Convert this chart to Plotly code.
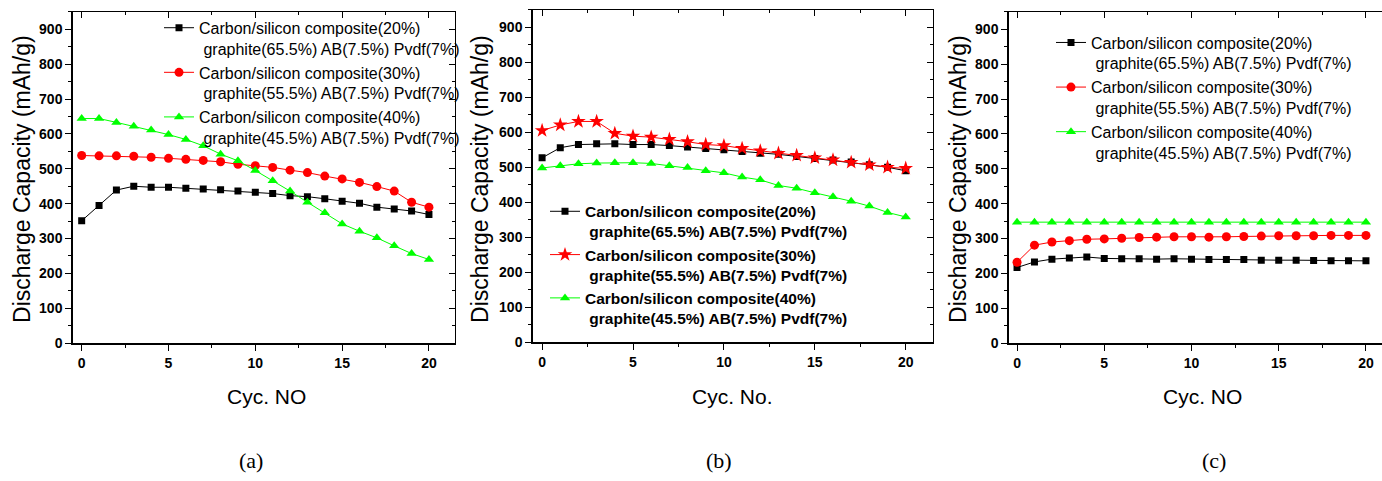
import plotly.graph_objects as go

cycles = list(range(21))

# Panel (a)
a_20 = [351, 395, 439, 450, 447, 447, 444, 442, 440, 436, 433, 429, 423, 420, 414, 407, 401, 390, 385, 379, 369]
a_30 = [538, 537, 537, 536, 533, 530, 527, 524, 520, 513, 509, 504, 496, 489, 479, 471, 461, 449, 436, 404, 390]
a_40 = [644, 644, 633, 622, 611, 598, 584, 566, 542, 523, 495, 466, 436, 404, 374, 342, 321, 302, 279, 257, 240]

# Panel (b)
b_20 = [527, 556, 565, 567, 567, 565, 565, 562, 558, 554, 550, 545, 540, 537, 531, 525, 521, 515, 507, 500, 490]
b_30 = [605, 621, 631, 631, 597, 589, 586, 580, 573, 565, 562, 554, 547, 540, 534, 527, 521, 514, 507, 500, 497]
b_40 = [498, 504, 510, 512, 513, 513, 511, 504, 499, 490, 484, 472, 464, 448, 440, 427, 416, 403, 389, 371, 358]

# Panel (c)
c_20 = [217, 233, 241, 244, 247, 243, 242, 242, 241, 242, 241, 240, 240, 240, 238, 238, 238, 237, 236, 236, 236]
c_30 = [232, 281, 290, 294, 298, 299, 301, 303, 304, 305, 305, 304, 305, 306, 307, 308, 308, 308, 309, 309, 309]
c_40 = [347, 347, 347, 347, 347, 347, 347, 347, 347, 347, 347, 347, 347, 347, 347, 347, 347, 347, 347, 347, 347]

names = [
    "Carbon/silicon composite(20%)<br>\u00a0graphite(65.5%) AB(7.5%) Pvdf(7%)",
    "Carbon/silicon composite(30%)<br>\u00a0graphite(55.5%) AB(7.5%) Pvdf(7%)",
    "Carbon/silicon composite(40%)<br>\u00a0graphite(45.5%) AB(7.5%) Pvdf(7%)",
]
x_titles = ["Cyc. NO", "Cyc. No.", "Cyc. NO"]
y_title = "Discharge Capacity (mAh/g)"
panel_labels = ["(a)", "(b)", "(c)"]
x_ticks = [0, 5, 10, 15, 20]

W, H = 1382, 481
SANS = "Liberation Sans, Arial, sans-serif"
SERIF = "Liberation Serif, Times New Roman, serif"

def px(x):
    return x / W

def py(y):
    return 1 - y / H

panels = [
    dict(data=[a_20, a_30, a_40], syms=["square", "circle", "triangle-up"],
         xd=(73, 455), yd=(12, 349), xr=[-0.5, 21.5], right=True,
         leg=(159, 11), fs=16, bold=False),
    dict(data=[b_20, b_30, b_40], syms=["square", "star", "triangle-up"],
         xd=(533, 933), yd=(10, 348), xr=[-0.5, 21.5], right=True,
         leg=(545, 198), fs=15.5, bold=True),
    dict(data=[c_20, c_30, c_40], syms=["square", "circle", "triangle-up"],
         xd=(1009, 1382), yd=(12, 349), xr=[-0.46, 20.92], right=False,
         leg=(1051, 26), fs=16, bold=False),
]
colors = ["#000000", "#FF0000", "#00FF00"]
sizes = {"square": 7, "circle": 9, "triangle-up": 9, "star": 11}

fig = go.Figure()
layout = dict(width=W, height=H, margin=dict(l=0, r=0, t=0, b=0),
              paper_bgcolor="white", plot_bgcolor="white", showlegend=True,
              annotations=[])

tickfont = dict(family=SANS, size=14, color="black", weight="bold")

for i, p in enumerate(panels):
    k = i + 1
    xs = "" if k == 1 else str(k)
    xo, yo = str(k + 3), str(k + 3)
    legname = "legend" if k == 1 else f"legend{k}"
    for j in range(3):
        on_overlay = (j == 2)
        fig.add_trace(go.Scatter(
            x=cycles, y=p["data"][j], mode="lines+markers", name=names[j],
            line=dict(color=colors[j], width=1),
            marker=dict(symbol=p["syms"][j], size=sizes[p["syms"][j]],
                        color=colors[j], line=dict(width=0)),
            xaxis=("x" + xo) if on_overlay else ("x" + xs),
            yaxis=("y" + yo) if on_overlay else ("y" + xs),
            legend=legname,
        ))
    dom_x = [px(p["xd"][0]), px(p["xd"][1])]
    dom_y = [py(p["yd"][1]), py(p["yd"][0])]
    layout["xaxis" + xs] = dict(
        domain=dom_x, range=p["xr"], anchor="y" + xs, tickvals=x_ticks,
        ticks="outside", ticklen=6, tickwidth=1, tickcolor="black",
        minor=dict(dtick=2.5, tick0=0, ticks="outside", ticklen=3, tickcolor="black"),
        showline=True, linecolor="black", linewidth=1.5, showgrid=False,
        zeroline=False, tickfont=tickfont,
    )
    layout["yaxis" + xs] = dict(
        domain=dom_y, range=[0, 950], anchor="x" + xs, dtick=100, tick0=0,
        ticks="outside", ticklen=6, tickwidth=1, tickcolor="black",
        minor=dict(dtick=50, tick0=0, ticks="outside", ticklen=3, tickcolor="black"),
        showline=True, linecolor="black", linewidth=1.5, showgrid=False,
        zeroline=False, tickfont=tickfont,
    )
    # top axis with inside ticks
    layout["xaxis" + xo] = dict(
        overlaying="x" + xs, anchor="y" + yo, side="top", matches="x" + xs,
        tickvals=x_ticks, ticks="inside", ticklen=6, tickcolor="black",
        minor=dict(dtick=2.5, tick0=0, ticks="inside", ticklen=3, tickcolor="black"),
        showticklabels=False, showline=True, linecolor="black", linewidth=1,
        showgrid=False, zeroline=False,
    )
    layout["yaxis" + yo] = dict(
        overlaying="y" + xs, anchor="x" + xo, side="right", matches="y" + xs,
        dtick=100, tick0=0, ticks="inside", ticklen=6, tickcolor="black",
        minor=dict(dtick=50, tick0=0, ticks="inside", ticklen=3, tickcolor="black"),
        showticklabels=False, showline=p["right"], linecolor="black", linewidth=1,
        showgrid=False, zeroline=False, visible=p["right"],
    )
    layout[legname] = dict(
        x=px(p["leg"][0]), y=py(p["leg"][1]), xanchor="left", yanchor="top",
        bgcolor="rgba(0,0,0,0)", borderwidth=0, valign="top",
        font=dict(family=SANS, size=p["fs"], color="black",
                  weight="bold" if p["bold"] else "normal"),
        itemwidth=30, tracegroupgap=0,
    )
    layout["annotations"] += [
        dict(text=y_title, textangle=-90, xref="paper", yref="paper",
             x=px([22, 480, 958][i]), y=py(182), xanchor="center", yanchor="middle",
             showarrow=False, font=dict(family=SANS, size=23, color="black")),
        dict(text=x_titles[i], xref="paper", yref="paper",
             x=px([266, 732, 1202][i]), y=py(403), xanchor="center", yanchor="middle",
             showarrow=False, font=dict(family=SANS, size=21, color="black")),
        dict(text=panel_labels[i], xref="paper", yref="paper",
             x=px([251, 719, 1214][i]), y=py(468), xanchor="center", yanchor="middle",
             showarrow=False, font=dict(family=SERIF, size=22, color="black")),
    ]

fig.update_layout(**layout)
fig.write_html("out.html", config={"displayModeBar": False},
               post_script="document.body.style.margin='0';document.body.style.overflow='hidden';")
